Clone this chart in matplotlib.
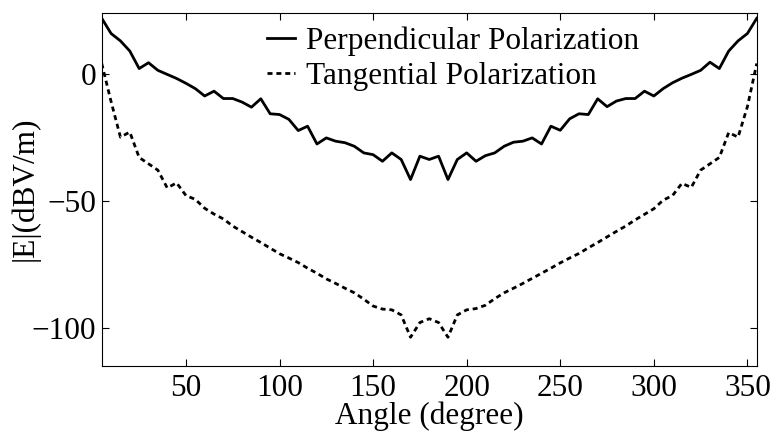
import matplotlib
matplotlib.use('Agg')
import matplotlib.pyplot as plt
import numpy as np

# angles sampled every 5 degrees
angles = np.arange(5, 360, 5)

perpendicular = [
    21.8, 15.8, 12.9, 8.9, 2.0, 4.3, 1.3, -0.3, -1.9, -3.8,
    -5.9, -8.8, -6.9, -9.8, -9.8, -11.2, -13.2, -9.9, -15.8, -16.1,
    -18.0, -22.4, -20.7, -27.7, -25.3, -26.6, -27.2, -28.6, -31.2, -31.9,
    -34.5, -31.2, -33.8, -41.7, -32.5, -33.8, -32.5, -41.7, -33.8, -31.2,
    -34.5, -32.3, -31.2, -28.6, -27.0, -26.6, -25.3, -27.7, -20.7, -22.3,
    -17.8, -15.8, -16.1, -9.9, -13.0, -10.8, -9.8, -9.8, -6.9, -8.8,
    -5.9, -3.6, -1.8, -0.3, 1.3, 4.5, 2.0, 8.9, 12.9, 15.8,
    21.8,
]

tangential = [
    4.0, -11.0, -25.0, -23.0, -33.0, -35.5, -38.0, -45.0, -43.0, -48.0,
    -49.5, -53.0, -55.3, -57.2, -60.0, -62.2, -64.4, -66.5, -68.7, -70.9,
    -72.6, -74.4, -76.6, -78.6, -80.8, -82.6, -84.5, -86.3, -88.8, -91.5,
    -92.7, -93.0, -95.0, -103.8, -98.0, -96.5, -98.0, -103.8, -95.0, -93.0,
    -92.5, -91.2, -88.6, -86.3, -84.5, -82.6, -80.6, -78.6, -76.6, -74.5,
    -72.6, -70.8, -68.6, -66.5, -64.3, -62.1, -60.0, -57.6, -55.4, -53.2,
    -49.8, -48.0, -43.2, -44.8, -38.0, -35.5, -33.0, -23.2, -25.0, -13.0,
    4.0,
]

xticks = [50, 100, 150, 200, 250, 300, 350]
yticks = [-100, -50, 0]

plt.rcParams['font.family'] = ['Liberation Serif', 'DejaVu Serif']
plt.rcParams['font.size'] = 22.5

fig = plt.figure(figsize=(7.73, 4.36), dpi=100)
ax = fig.add_axes([0.1316, 0.1612, 0.8474, 0.8097])

ax.plot(angles, perpendicular, color='black', linewidth=2, label='Perpendicular Polarization')
ax.plot(angles, tangential, color='black', linewidth=2, linestyle=(0, (1.8, 1.4)),
        label='Tangential Polarization')

ax.set_xlim(5, 355)
ax.set_ylim(-115, 24)
ax.set_xticks(xticks)
ax.set_yticks(yticks)
ax.tick_params(direction='in', length=5, width=0.8, top=True, right=True)
ax.tick_params(axis='x', pad=6)
ax.tick_params(axis='y', pad=4)
for s in ax.spines.values():
    s.set_linewidth(0.8)

ax.set_xlabel('Angle (degree)', labelpad=-1)
ax.set_ylabel('|E|(dBV/m)', labelpad=-6)

ax.legend(loc='upper left', bbox_to_anchor=(0.252, 0.962), frameon=False,
          handlelength=0.9, handletextpad=0.35, labelspacing=0.2,
          borderpad=0, borderaxespad=0)

fig.savefig('out.png', dpi=100)
